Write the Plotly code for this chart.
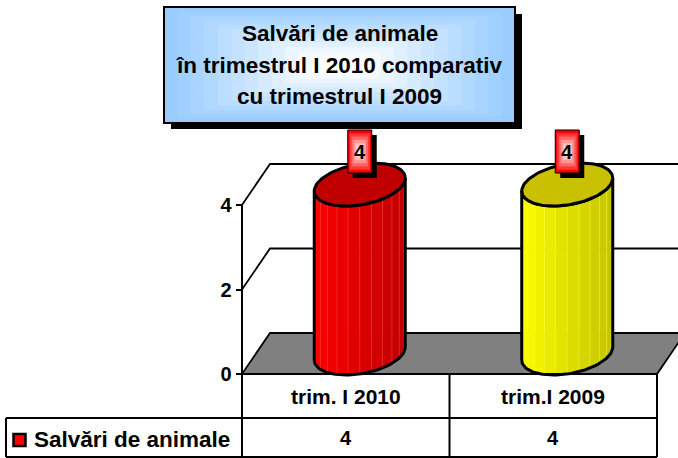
import numpy as np
import plotly.graph_objects as go

# ---------------- data ----------------
categories = ["trim. I 2010", "trim.I 2009"]
values = [4, 4]
series_name = "Salvări de animale"
title_lines = ["Salvări de animale", "în trimestrul I 2010 comparativ", "cu trimestrul I 2009"]
y_ticks = [0, 2, 4]

# ---------------- styles ----------------
body_light = ["#FF0000", "#FFFF00"]
body_dark = ["#C00000", "#C4C400"]
top_colors = ["#C00000", "#C8C000"]
FONT = "Liberation Sans, Arial, sans-serif"

W, H = 678, 458
X0_PX, COL_PX = 242.0, 207.5     # pixel of first category boundary, pixels per category
Y0_PX, UNIT_PX = 374.0, 42.25    # pixel row of value 0, pixels per value unit
DX, DY = 28 / COL_PX, 41 / UNIT_PX   # 3-D depth offset in data units
A, B, S = 45.5 / COL_PX, 20.5 / UNIT_PX, 6.5 / UNIT_PX  # cylinder ellipse


def pxx(p):
    return p / W


def pxy(p):
    return 1 - p / H


def hex2rgb(h):
    h = h.lstrip("#")
    return [int(h[i:i + 2], 16) for i in (0, 2, 4)]


def mix(c1, c2, f):
    a, b = hex2rgb(c1), hex2rgb(c2)
    return "rgb(%d,%d,%d)" % tuple(round(a[k] + (b[k] - a[k]) * f) for k in range(3))


fig = go.Figure()
shapes = []
annotations = []

x_left, x_right = -0.5, len(categories) - 0.5
ymax = max(y_ticks)

# back wall gridlines and left wall diagonals
for v in y_ticks:
    if v == 0:
        continue
    fig.add_trace(go.Scatter(x=[x_left, x_left + DX, x_right + DX], y=[v, v + DY, v + DY],
                             mode="lines", line=dict(color="black", width=1.8),
                             hoverinfo="skip"))

# floor
fig.add_trace(go.Scatter(x=[x_left, x_left + DX, x_right + DX, x_right, x_left],
                         y=[0, DY, DY, 0, 0], mode="lines", fill="toself",
                         fillcolor="#808080", line=dict(color="black", width=1.8),
                         hoverinfo="skip"))

# y axis line
shapes.append(dict(type="line", xref="x", yref="y", x0=x_left, x1=x_left, y0=0, y1=ymax,
                   line=dict(color="black", width=2)))

# cylinders
N = 12
for i, (cat, v) in enumerate(zip(categories, values)):
    cx = i + DX / 2
    yb, yt = DY / 2, v + DY / 2

    def ell(cy, t):
        return cx + A * np.cos(t), cy + B * np.sin(t) + S * np.cos(t)

    edges = np.linspace(np.pi, 2 * np.pi, N + 1)
    for k in range(N):
        t = np.linspace(edges[k], edges[k + 1], 6)
        bx, by = ell(yb, t)
        tx, ty = ell(yt, t[::-1])
        tm = 0.5 * (edges[k] + edges[k + 1])
        f = (np.cos(tm) + 1) / 2
        col = mix(body_light[i], body_dark[i], f ** 0.9)
        fig.add_trace(go.Scatter(x=np.concatenate([bx, tx, bx[:1]]),
                                 y=np.concatenate([by, ty, by[:1]]),
                                 mode="lines", fill="toself", fillcolor=col,
                                 line=dict(color=col, width=0.6), hoverinfo="skip"))
    # separator highlights
    for k in range(1, N):
        t = np.array([edges[k]])
        bx, by = ell(yb, t)
        tx, ty = ell(yt, t)
        fig.add_trace(go.Scatter(x=[bx[0], tx[0]], y=[by[0], ty[0]], mode="lines",
                                 line=dict(color=mix(body_light[i], "#FFFFFF", 0.3), width=0.5),
                                 hoverinfo="skip"))
    # body outline
    t = np.linspace(np.pi, 2 * np.pi, 60)
    bx, by = ell(yb, t)
    tx, ty = ell(yt, t[::-1])
    fig.add_trace(go.Scatter(x=np.concatenate([bx, tx, bx[:1]]), y=np.concatenate([by, ty, by[:1]]),
                             mode="lines", line=dict(color="black", width=3), hoverinfo="skip"))
    # top ellipse
    t = np.linspace(0, 2 * np.pi, 120)
    ex, ey = ell(yt, t)
    fig.add_trace(go.Scatter(x=ex, y=ey, mode="lines", fill="toself", fillcolor=top_colors[i],
                             line=dict(color="black", width=3), hoverinfo="skip"))

    # data label box (pixel offsets around the top of the bar)
    hw, lo, hi = 12, 11.5, 54.5
    shapes.append(dict(type="rect", xref="x", yref="y", xsizemode="pixel", ysizemode="pixel",
                       xanchor=cx, yanchor=yt, x0=-hw + 5, x1=hw + 5, y0=lo - 5, y1=hi - 5,
                       fillcolor="black", line=dict(width=0)))
    steps = 6
    for s in range(steps):
        ix = hw * s / (steps + 0.5)
        iy = (hi - lo) / 2 * s / (steps + 0.5)
        shapes.append(dict(type="rect", xref="x", yref="y", xsizemode="pixel", ysizemode="pixel",
                           xanchor=cx, yanchor=yt, x0=-hw + ix, x1=hw - ix,
                           y0=lo + iy, y1=hi - iy,
                           fillcolor=mix("#FF0000", "#FFFFFF", (s / (steps - 1)) ** 0.9 * 0.92),
                           line=dict(color="black", width=1) if s == 0 else dict(width=0)))
    annotations.append(dict(x=cx, y=yt, xref="x", yref="y", yshift=(lo + hi) / 2,
                            text=str(v), showarrow=False,
                            font=dict(family=FONT, size=20, color="black", weight="bold")))

# ---------------- data table ----------------
row1_top, row1_bot, row2_bot = 374, 418, 457
legend_left = x_left - (X0_PX - 6) / COL_PX
line_kw = dict(color="black", width=2)
shapes.append(dict(type="line", xref="x", yref="paper", x0=x_left, x1=x_right,
                   y0=pxy(row1_top), y1=pxy(row1_top), line=line_kw))
for yy in (row1_bot, row2_bot):
    shapes.append(dict(type="line", xref="x", yref="paper", x0=legend_left, x1=x_right,
                       y0=pxy(yy), y1=pxy(yy), line=line_kw))
for k in range(len(categories) + 1):
    xx = x_left + k
    shapes.append(dict(type="line", xref="x", yref="paper", x0=xx, x1=xx,
                       y0=pxy(row1_top), y1=pxy(row2_bot), line=line_kw))
shapes.append(dict(type="line", xref="x", yref="paper", x0=legend_left, x1=legend_left,
                   y0=pxy(row1_bot), y1=pxy(row2_bot), line=line_kw))

for i, (cat, v) in enumerate(zip(categories, values)):
    annotations.append(dict(x=i, y=pxy(396.5), xref="x", yref="paper", text=cat, showarrow=False,
                            yanchor="middle",
                            font=dict(family=FONT, size=21, color="black", weight="bold")))
    annotations.append(dict(x=i, y=pxy(438), xref="x", yref="paper", text=str(v), showarrow=False,
                            yanchor="middle",
                            font=dict(family=FONT, size=20, color="black", weight="bold")))

# legend key in the table
shapes.append(dict(type="rect", xref="paper", yref="paper", x0=pxx(13.5), x1=pxx(25.5),
                   y0=pxy(446), y1=pxy(434), fillcolor=body_light[0],
                   line=dict(color="black", width=2.5)))
annotations.append(dict(x=pxx(32), y=pxy(439), xref="paper", yref="paper", text=series_name,
                        showarrow=False, xanchor="left", yanchor="middle",
                        font=dict(family=FONT, size=22.5, color="black", weight="bold")))

# ---------------- title box ----------------
tb = (164, 7, 515, 123)
shapes.append(dict(type="rect", xref="paper", yref="paper", x0=pxx(tb[0] + 7), x1=pxx(tb[2] + 7),
                   y0=pxy(tb[3] + 6), y1=pxy(tb[1] + 7), fillcolor="black", line=dict(width=0)))
tsteps = 12
cxp, cyp = (tb[0] + tb[2]) / 2, (tb[1] + tb[3]) / 2
for s in range(tsteps):
    f = s / tsteps
    hw_ = (tb[2] - tb[0]) / 2 * (1 - f * 0.92)
    hh_ = (tb[3] - tb[1]) / 2 * (1 - f * 0.92)
    shapes.append(dict(type="rect", xref="paper", yref="paper",
                       x0=pxx(cxp - hw_), x1=pxx(cxp + hw_), y0=pxy(cyp + hh_), y1=pxy(cyp - hh_),
                       fillcolor=mix("#99CCFF", "#FFFFFF", (s / (tsteps - 1)) ** 1.1),
                       line=dict(color="black", width=2) if s == 0 else dict(width=0)))
for j, (txt, yy) in enumerate(zip(title_lines, (33, 65, 96))):
    annotations.append(dict(x=pxx(cxp), y=pxy(yy), xref="paper", yref="paper", text=txt,
                            showarrow=False, xanchor="center", yanchor="middle",
                            font=dict(family=FONT, size=22.5, color="black", weight="bold")))

fig.update_layout(
    width=W, height=H, margin=dict(l=0, r=0, t=0, b=0),
    paper_bgcolor="white", plot_bgcolor="white", showlegend=False,
    xaxis=dict(range=[x_left - X0_PX / COL_PX, x_left + (W - X0_PX) / COL_PX], visible=False,
               fixedrange=True),
    yaxis=dict(range=[-(H - Y0_PX) / UNIT_PX, Y0_PX / UNIT_PX], tickvals=y_ticks,
               ticktext=[str(t) for t in y_ticks], ticks="outside", ticklen=6, tickwidth=2,
               tickcolor="black", showgrid=False, zeroline=False, showline=False,
               anchor="free", position=(X0_PX - 0.5) / W, fixedrange=True,
               tickfont=dict(family=FONT, size=20, color="black", weight="bold")),
    shapes=shapes, annotations=annotations,
)

fig.write_html("out.html", config={"displayModeBar": False},
               post_script="document.body.style.margin='0';document.body.style.padding='0';")
